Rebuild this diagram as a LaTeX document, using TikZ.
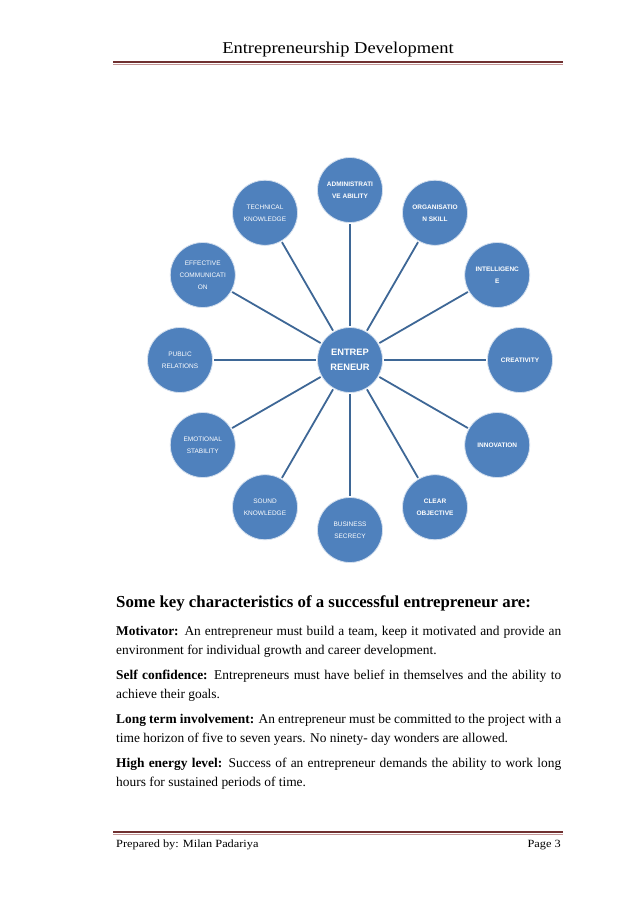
\documentclass[tikz,border=0pt]{standalone}
\usepackage{fontspec}
\setmainfont{Liberation Serif}
\newfontfamily\headfont[FakeStretch=1.12]{Liberation Serif}
\newfontfamily\circfont{Liberation Sans}
\usetikzlibrary{positioning,calc}
\definecolor{smartblue}{RGB}{79,129,189}
\definecolor{linkblue}{RGB}{62,103,150}
\definecolor{rulered}{RGB}{112,48,48}
\definecolor{rulepink}{RGB}{196,150,150}
\tikzset{
  hub/.style={circle, fill=smartblue, draw=white!75!smartblue, line width=0.8pt, minimum size=65pt, inner sep=0pt, align=center, text=white, font=\circfont\bfseries\fontsize{9.3}{15}\selectfont},
  trait/.style={circle, fill=smartblue, draw=white!75!smartblue, line width=0.8pt, minimum size=65pt, inner sep=0pt, align=center, text=white, font=\circfont\fontsize{6.5}{12}\selectfont},
  traitb/.style={trait, font=\circfont\bfseries\fontsize{6.5}{12}\selectfont},
  link/.style={draw=linkblue, line width=1.8pt, shorten <=1pt, shorten >=1pt},
  para/.style={anchor=base west, inner sep=0pt, text width=445pt, align=justify, font=\fontsize{13.4}{19.5}\selectfont},
  pagerule/.style={draw=rulered, line width=2.6pt}
}
\hyphenpenalty=10000
\begin{document}
\begin{tikzpicture}[x=1pt, y=1pt]
\fill[white] (0,0) rectangle (638,-903);
\useasboundingbox (0,0) rectangle (638,-903);
% header and footer
\node[anchor=base, inner sep=0pt, font=\headfont\fontsize{16.5}{18}\selectfont] (title) at (338,-53) {Entrepreneurship Development};
\coordinate (hl) at (113,-62); \coordinate (hr) at (563,-62);
\draw[pagerule] (hl) -- (hr);
\draw[rulepink, line width=0.6pt] ([yshift=-1.8pt]hl) -- ([yshift=-1.8pt]hr);
\coordinate (fl) at (113,-832); \coordinate (fr) at (563,-832);
\draw[pagerule] (fl) -- (fr);
\draw[rulepink, line width=0.6pt] ([yshift=-1.8pt]fl) -- ([yshift=-1.8pt]fr);
\node[anchor=base west, inner sep=0pt, font=\headfont\fontsize{11}{14}\selectfont] (prep) at (116,-847) {Prepared by: Milan Padariya};
\node[anchor=base east, inner sep=0pt, font=\headfont\fontsize{11}{14}\selectfont] (pageno) at (561,-847) {Page 3};
% the wheel
\node[hub] (hub) at (350,-360) {ENTREP\\RENEUR};
\node[traitb] (admin) at ([shift={(90:170pt)}]hub) {ADMINISTRATI\\VE ABILITY};
\node[traitb] (organ) at ([shift={(60:170pt)}]hub) {ORGANISATIO\\N SKILL};
\node[traitb] (intel) at ([shift={(30:170pt)}]hub) {INTELLIGENC\\E};
\node[traitb] (creat) at ([shift={(0:170pt)}]hub) {CREATIVITY};
\node[traitb] (innov) at ([shift={(-30:170pt)}]hub) {INNOVATION};
\node[traitb] (clear) at ([shift={(-60:170pt)}]hub) {CLEAR\\OBJECTIVE};
\node[trait] (secrecy) at ([shift={(-90:170pt)}]hub) {BUSINESS\\SECRECY};
\node[trait] (sound) at ([shift={(-120:170pt)}]hub) {SOUND\\KNOWLEDGE};
\node[trait] (emotion) at ([shift={(-150:170pt)}]hub) {EMOTIONAL\\STABILITY};
\node[trait] (public) at ([shift={(180:170pt)}]hub) {PUBLIC\\RELATIONS};
\node[trait] (effect) at ([shift={(150:170pt)}]hub) {EFFECTIVE\\COMMUNICATI\\ON};
\node[trait] (tech) at ([shift={(120:170pt)}]hub) {TECHNICAL\\KNOWLEDGE};
\draw[link] (hub) -- (admin); \draw[link] (hub) -- (organ); \draw[link] (hub) -- (intel);
\draw[link] (hub) -- (creat); \draw[link] (hub) -- (innov); \draw[link] (hub) -- (clear);
\draw[link] (hub) -- (secrecy); \draw[link] (hub) -- (sound); \draw[link] (hub) -- (emotion);
\draw[link] (hub) -- (public); \draw[link] (hub) -- (effect); \draw[link] (hub) -- (tech);
% text below
\node[anchor=base west, inner sep=0pt, font=\bfseries\fontsize{16.8}{18}\selectfont] (head) at (116,-607) {Some key characteristics of a successful entrepreneur are:};
\node[para] (motiv) at (116,-635) {\textbf{Motivator:} An entrepreneur must build a team, keep it motivated and provide an environment for individual growth and career development.};
\node[para] (conf) at (116,-679) {\textbf{Self confidence:} Entrepreneurs must have belief in themselves and the ability to achieve their goals.};
\node[para] (involve) at (116,-723) {\textbf{Long term involvement:} An entrepreneur must be committed to the project with a time horizon of five to seven years. No ninety- day wonders are allowed.};
\node[para] (energy) at (116,-767) {\textbf{High energy level:} Success of an entrepreneur demands the ability to work long hours for sustained periods of time.};
\end{tikzpicture}
\end{document}
